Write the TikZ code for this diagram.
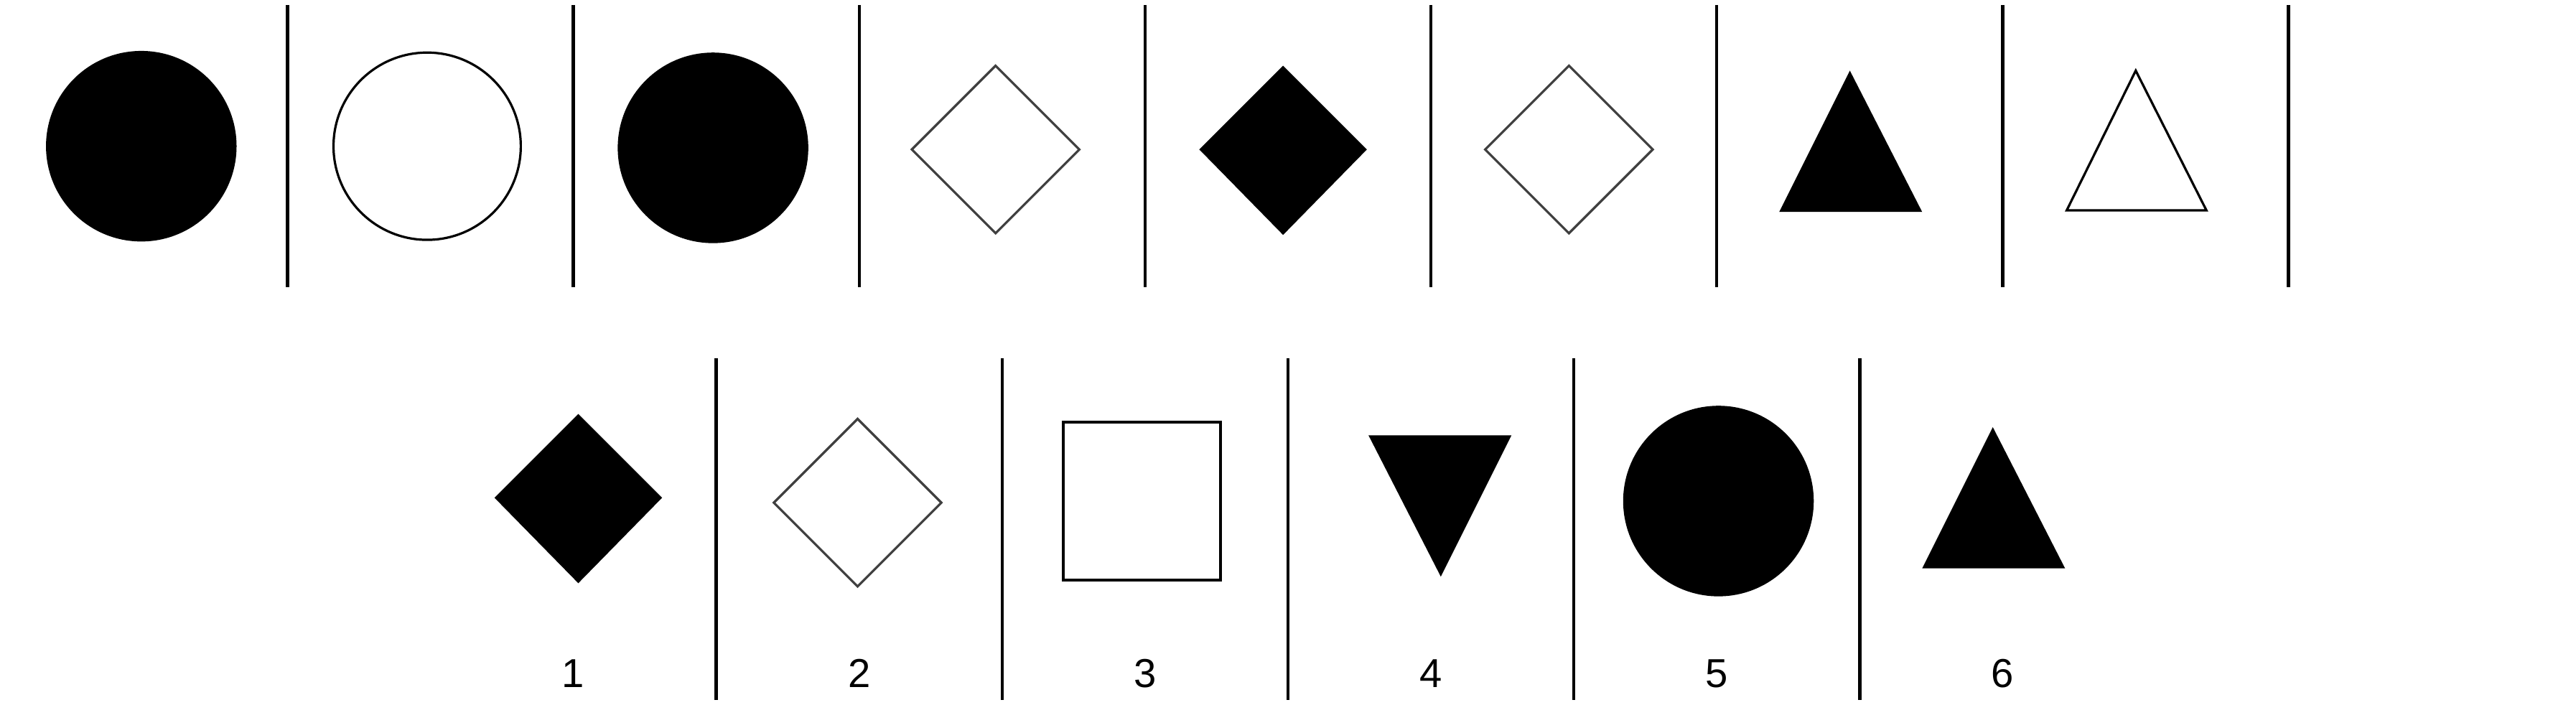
\documentclass[tikz,border=0pt]{standalone}
\usepackage{fontspec}
\setmainfont{Liberation Sans}
\begin{document}
\begin{tikzpicture}[x=0.02cm,y=-0.02cm,
  divider/.style={line width=1.1pt},
  outline/.style={draw=black,line width=0.8pt},
  greyline/.style={draw=black!75,line width=0.8pt},
  number/.style={font=\fontsize{14}{16}\selectfont}]
\useasboundingbox (0,0) rectangle (1568,429);
% dividers
\foreach \x in {175,349,...,1393} \draw [divider] (\x,3) -- (\x,175);
\foreach \x in {436,610,...,1132} \draw [divider] (\x,218) -- (\x,426);

% top row
\fill (86,89) circle (58);
\draw [outline] (260,89) circle (57);
\fill (434,90) circle (58);
\draw [greyline] (606,40) -- (657,91) -- (606,142) -- (555,91) -- cycle;
\fill (781,40) -- (832,91) -- (781,143) -- (730,91) -- cycle;
\draw [greyline] (955,40) -- (1006,91) -- (955,142) -- (904,91) -- cycle;
\fill (1126,43) -- (1170,129) -- (1083,129) -- cycle;
\draw [outline] (1300,43) -- (1343,128) -- (1258,128) -- cycle;

% answer row
\fill (352,252) -- (403,303) -- (352,355) -- (301,303) -- cycle;
\draw [greyline] (522,255) -- (573,306) -- (522,357) -- (471,306) -- cycle;
\draw [outline, line width=1pt] (647,257) rectangle (743,353);
\fill (833,265) -- (920,265) -- (877,351) -- cycle;
\fill (1046,305) circle (58);
\fill (1213,260) -- (1257,346) -- (1170,346) -- cycle;
\foreach \n in {1,...,6}
  \node [number] (lbl\n) at ({349+174*(\n-1)},410) {\n};
\end{tikzpicture}
\end{document}
